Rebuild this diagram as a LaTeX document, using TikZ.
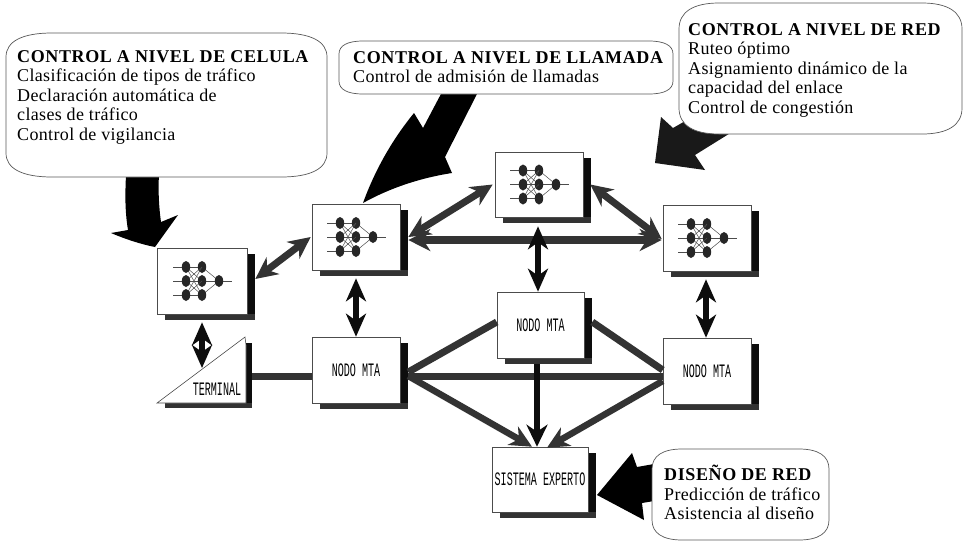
\documentclass[tikz,border=0pt]{standalone}
\usepackage{fontspec}
\setmainfont[LetterSpace=1.9,BoldFeatures={LetterSpace=3.4}]{Liberation Serif}
\newfontfamily\boxfont{Liberation Mono}
\usetikzlibrary{arrows.meta,calc}
\definecolor{dith}{gray}{0.2}
\definecolor{shad}{gray}{0.05}
\tikzset{
  x=1pt,y=-1pt,
  boxnode/.style={draw=black!70,fill=white,line width=0.6pt,inner sep=0pt,font=\boxfont},
  bubshape/.style={draw=black!65,fill=white,line width=0.7pt},
  bubtext/.style={anchor=north west,align=left,inner sep=0pt,font=\fontsize{18}{19.5}\selectfont},
  blockarrow/.style={fill=black,draw=none},
  dbl/.style={draw=dith,line width=7pt,{Stealth[length=22pt,width=21pt,inset=7pt]}-{Stealth[length=22pt,width=21pt,inset=7pt]}},
  dblh/.style={draw=dith,line width=8pt,{Stealth[length=22pt,width=22pt,inset=7pt]}-{Stealth[length=22pt,width=22pt,inset=7pt]}},
  dblv/.style={draw=shad,line width=6pt,{Stealth[length=23pt,width=20pt,inset=7pt]}-{Stealth[length=23pt,width=20pt,inset=7pt]}},
  sng/.style={draw=dith,line width=6.5pt,-{Stealth[length=22pt,width=21pt,inset=7pt]}},
  sngk/.style={draw=shad,line width=6.5pt,-{Stealth[length=22pt,width=21pt,inset=7pt]}},
  plainbar/.style={draw=dith,line width=7pt},
  nnline/.style={draw=black!70,line width=0.5pt},
  nnball/.style={fill=black!85,draw=none},
}
% #1 name, #2 cx, #3 cy, #4 w, #5 h, #6 text
\newcommand\shadowbox[6]{%
  \fill[shad] ({#2+#4/2},{#3-#5/2+6}) rectangle ({#2+#4/2+8},{#3+#5/2+6});
  \fill[dith] ({#2-#4/2+8},{#3+#5/2}) rectangle ({#2+#4/2+8},{#3+#5/2+6});
  \node[boxnode,minimum width=#4pt,minimum height=#5pt] (#1) at (#2,#3) {#6};
}
\newcommand\boxlabel[1]{\fontsize{19}{19}\selectfont\scalebox{0.53}[1]{#1}}
% neural net icon centred on a node
\newcommand\nnicon[1]{%
  \begin{scope}[shift={(#1.center)}]
    \foreach \r in {-14,0,14}{
      \draw[nnline] (-29,\r) -- (0,\r);
      \draw[nnline] (0,\r) -- (17,0);
      \foreach \s in {-14,0,14}{\draw[nnline] (-16,\r) -- (0,\s);}
      \fill[nnball] (-16,\r) ellipse (4.2 and 6);
      \fill[nnball] (0,\r) ellipse (4.2 and 6);
    }
    \draw[nnline] (17,0) -- (30,0);
    \fill[nnball] (17,0) ellipse (4.2 and 6);
  \end{scope}
}
% x0,y0,x1,y1,rx,ry
\newcommand\bubble[6]{%
  \draw[bubshape] ({#1+#5},#2) -- ({#3-#5},#2)
    .. controls ({#3-0.35*#5},#2) and (#3,{#2+0.35*#6}) .. (#3,{#2+#6})
    -- (#3,{#4-#6})
    .. controls (#3,{#4-0.35*#6}) and ({#3-0.35*#5},#4) .. ({#3-#5},#4)
    -- ({#1+#5},#4)
    .. controls ({#1+0.35*#5},#4) and (#1,{#4-0.35*#6}) .. (#1,{#4-#6})
    -- (#1,{#2+#6})
    .. controls (#1,{#2+0.35*#6}) and ({#1+0.35*#5},#2) .. ({#1+#5},#2) -- cycle;
}
\begin{document}
\begin{tikzpicture}
\useasboundingbox (0,0) rectangle (964,542);
\fill[white] (0,0) rectangle (964,542);

% block arrows
\fill[blockarrow] (126,175) -- (159,175) .. controls (158,190) and (159,208) .. (161,222)
  -- (178,215) -- (155,247) .. controls (140,244) and (125,239) .. (111,233)
  -- (128,230) .. controls (125,212) and (125,195) .. (126,175) -- cycle;
\fill[blockarrow] (442,92) -- (478,92) -- (445,157) -- (452,173)
  .. controls (420,178) and (390,188) .. (363,203)
  .. controls (375,170) and (392,140) .. (414,113) -- (423,128) -- cycle;
\fill[blockarrow,fill=black!90] (687,120) -- (732,132) -- (695,155) -- (705,170) -- (655,163) -- (661,117) -- (673,128) -- cycle;
\fill[blockarrow] (654,464) -- (654,501) -- (642,503) -- (644,520) -- (597,495) -- (632,453) -- (637,467) -- cycle;

% callouts
\bubble{6}{33}{327}{177}{46}{24}
\bubble{339}{41}{673}{94}{24}{13}
\bubble{679}{3}{962}{134}{40}{26}
\bubble{652}{449}{829}{540}{30}{20}

\node[bubtext] (tcell) at (17,49) {\rule{0pt}{13pt}\textbf{CONTROL A NIVEL DE CELULA}\\Clasificación de tipos de tráfico\\Declaración automática de\\clases de tráfico\\Control de vigilancia};
\node[bubtext] (tcall) at (353,50) {\rule{0pt}{13pt}\textbf{CONTROL A NIVEL DE LLAMADA}\\Control de admisión de llamadas};
\node[bubtext] (tnet) at (688,22) {\rule{0pt}{13pt}\textbf{CONTROL A NIVEL DE RED}\\Ruteo óptimo\\Asignamiento dinámico de la\\capacidad del enlace\\Control de congestión};
\node[bubtext] (tdes) at (664,465) {\rule{0pt}{13pt}\textbf{DISEÑO DE RED}\\Predicción de tráfico\\Asistencia al diseño};

% boxes
\shadowbox{nnA}{202}{281}{90}{66}{}
\shadowbox{nnB}{356}{237}{88}{66}{}
\shadowbox{nnC}{539}{184.5}{88}{65}{}
\shadowbox{nnD}{707}{238}{88}{66}{}
\shadowbox{nodeL}{356}{370}{88}{66}{\boxlabel{NODO MTA}}
\shadowbox{nodeC}{540.5}{325}{87}{66}{\boxlabel{NODO MTA}}
\shadowbox{nodeR}{707}{371}{88}{66}{\boxlabel{NODO MTA}}
\shadowbox{sis}{540}{479.5}{96}{65}{\boxlabel{SISTEMA EXPERTO}}
\nnicon{nnA}
\nnicon{nnB}
\nnicon{nnC}
\nnicon{nnD}

% terminal
\fill[shad] (246,343) rectangle (252,408);
\fill[dith] (165,403) rectangle (252,408);
\draw[fill=white,draw=black!70,line width=0.6pt] (157,403) -- (245,337) -- (246,345) -- (246,403) -- cycle;
\node[inner sep=0pt,font=\boxfont] (term) at (217,389) {\boxlabel{TERMINAL}};
\coordinate (termtop) at (202,368);
\coordinate (termright) at (252,376);

% connectors
\draw[dbl] ([xshift=8pt,yshift=2pt]nnA.east) -- ([xshift=-1pt]nnB.west);
\draw[dbl] ([xshift=8pt]nnB.east) -- ([xshift=-2pt]nnC.west);
\draw[dbl] ([xshift=7pt]nnC.east) -- ([xshift=-1pt,yshift=-1pt]nnD.west);
\draw[dblh] ([xshift=8pt,yshift=-3pt]nnB.east) -- ([xshift=-1pt,yshift=-2pt]nnD.west);
\draw[dblv] ([xshift=-1pt,yshift=-9pt]nnC.south) -- ([xshift=-2.5pt]nodeC.north);
\draw[dblv] ([yshift=-8pt]nnB.south) -- (nodeL.north);
\draw[dblv] ([yshift=-8pt]nnA.south) -- (termtop);
\draw[dblv] ([xshift=-1pt,yshift=-8pt]nnD.south) -- ([xshift=-1pt]nodeR.north);
\draw[plainbar] (termright) -- ([yshift=-6pt]nodeL.west);
\draw[plainbar] ([yshift=3pt]nodeC.west) -- ([xshift=8pt,yshift=-2pt]nodeL.east);
\draw[plainbar] ([xshift=8pt,yshift=3pt]nodeC.east) -- ([yshift=1pt]nodeR.west);
\draw[plainbar] ([xshift=8pt,yshift=-6pt]nodeL.east) -- ([yshift=-5pt]nodeR.west);
\draw[sngk] ([xshift=-3.5pt,yshift=-6pt]nodeC.south) -- ([xshift=-3pt]sis.north);
\draw[sng] ([xshift=8pt,yshift=-6pt]nodeL.east) -- ([xshift=-8pt]sis.north);
\draw[sng] ([yshift=-10pt]nodeR.west) -- ([xshift=7pt,yshift=-1pt]sis.north);
\end{tikzpicture}
\end{document}
